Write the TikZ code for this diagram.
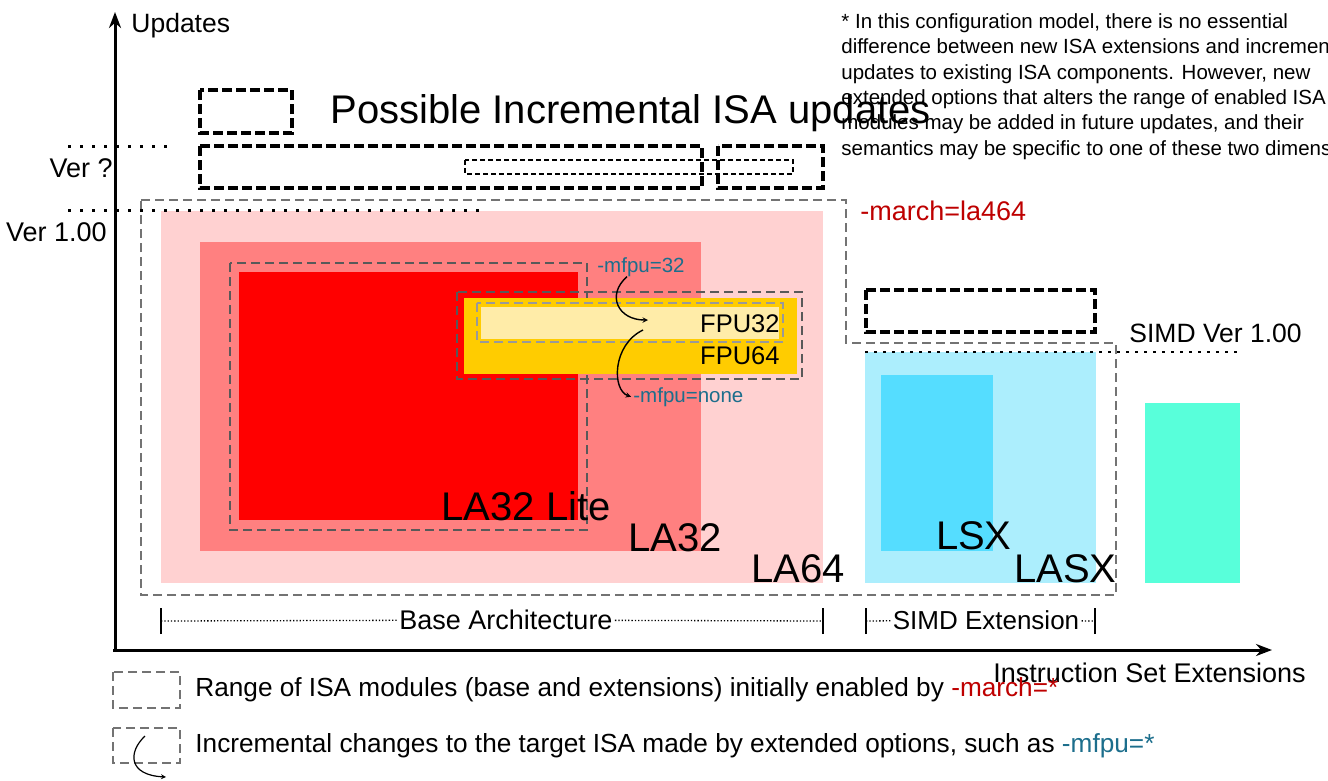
\documentclass[tikz,border=0pt]{standalone}
\usepackage{fontspec}
\setmainfont{Liberation Sans}
\usetikzlibrary{positioning,arrows.meta}
\definecolor{la64c}{RGB}{255,209,209}
\definecolor{la32c}{RGB}{255,128,128}
\definecolor{litec}{RGB}{255,0,0}
\definecolor{fpu64c}{RGB}{255,204,0}
\definecolor{fpu32c}{RGB}{255,236,168}
\definecolor{lasxc}{RGB}{172,238,253}
\definecolor{lsxc}{RGB}{85,221,255}
\definecolor{newc}{RGB}{88,255,218}
\definecolor{marchc}{RGB}{190,0,0}
\definecolor{mfpuc}{RGB}{28,110,140}
\newcommand{\fsz}[1]{\fontsize{#1}{#1}\selectfont}
\tikzset{
  futurebox/.style={line width=3.2pt,dash pattern=on 10pt off 4pt},
  smallbox/.style={line width=1.5pt,dash pattern=on 5pt off 3pt},
  marchbox/.style={draw=black!55,line width=1.2pt,dash pattern=on 9pt off 5pt},
  mfpubox/.style={draw=black!65,line width=1.8pt,dash pattern=on 9pt off 5pt},
  verline/.style={line width=3pt,dash pattern=on 3pt off 9pt},
  bracket/.style={line width=1.3pt,dotted},
  axis/.style={line width=3pt,-{Stealth[length=16pt,width=12pt]}},
  lbl/.style={inner sep=0pt}
}
\begin{document}
\begin{tikzpicture}[thick,>=stealth,x=1pt,y=-1pt]
\useasboundingbox (0,0) rectangle (1328,780);
% regions
\fill[la64c] (161,211) rectangle (823,583);
\fill[la32c] (200,242) rectangle (701,551);
\fill[litec] (239,272) rectangle (578,520);
\draw[mfpubox] (230,263) rectangle (587,530);
\fill[fpu64c] (464,298) rectangle (797,374);
\fill[fpu32c] (481,307) rectangle (779,339);
\draw[mfpubox,draw=black!40] (477,303) rectangle (783,342);
\draw[mfpubox] (457,292) rectangle (802,379);
\fill[lasxc] (865,352) rectangle (1096,583);
\fill[lsxc] (881,375) rectangle (993,551);
\fill[newc] (1145,403) rectangle (1240,583);
\draw[marchbox] (141,200) -- (846,200) -- (846,343) -- (1116,343) -- (1116,595) -- (141,595) -- cycle;
% possible future updates
\draw[futurebox] (200,90) rectangle (292,133);
\draw[futurebox] (200,146) rectangle (702,188);
\draw[futurebox] (718,146) rectangle (823,188);
\draw[smallbox] (465,160) rectangle (793,174);
\draw[futurebox] (866,290) rectangle (1095,332);
\draw[verline] (68,146) -- (175,146);
\draw[verline] (68,210) -- (487,210);
\draw[verline,line width=2.6pt,dash pattern=on 2.6pt off 6.4pt] (865,352) -- (1237,352);
% axes
\draw[axis] (115,651) -- (115,12);
\draw[axis] (113,650) -- (1272,650);
\node[lbl,anchor=base west,font=\fsz{26.5}] (yname) at (131,32) {Updates};
\node[lbl,anchor=base east,font=\fsz{27}] (xname) at (1306,682) {Instruction Set Extensions};
\node[lbl,anchor=base east,font=\fsz{27}] (verq) at (113,177) {Ver ?};
\node[lbl,anchor=base east,font=\fsz{27}] (ver1) at (107,241) {Ver 1.00};
\node[lbl,anchor=base west,font=\fsz{26.5}] (simdver) at (1129,342) {SIMD Ver 1.00};
\node[lbl,anchor=base west,font=\fsz{40}] (future) at (330,123) {Possible Incremental ISA updates};
\begin{scope}
\clip (0,0) rectangle (1328,780);
\node[lbl,anchor=north west,align=left,font={\fontsize{20.5}{25.4}\selectfont}] (note) at (841,13)
  {* In this configuration model, there is no essential\\
   difference between new ISA extensions and incremental\\
   updates to existing ISA components. However, new\\
   extended options that alters the range of enabled ISA\\
   modules may be added in future updates, and their\\
   semantics may be specific to one of these two dimensions.};
\end{scope}
\node[lbl,anchor=base west,font=\fsz{27},text=marchc] (march) at (860,220) {-march=la464};
% module names
\node[lbl,anchor=base east,font=\fsz{40}] (lite) at (611,520) {LA32 Lite};
\node[lbl,anchor=base east,font=\fsz{40}] (la32) at (722,551) {LA32};
\node[lbl,anchor=base east,font=\fsz{40}] (la64) at (845,582) {LA64};
\node[lbl,anchor=base east,font=\fsz{40}] (lsx) at (1012,549) {LSX};
\node[lbl,anchor=base east,font=\fsz{40}] (lasx) at (1117,582) {LASX};
\node[lbl,anchor=base east,font=\fsz{25.5}] (fpu32) at (780,332) {FPU32};
\node[lbl,anchor=base east,font=\fsz{25.5}] (fpu64) at (780,364) {FPU64};
% -mfpu options
\node[lbl,anchor=base west,font=\fsz{20.5},text=mfpuc] (m32) at (597,272) {-mfpu=32};
\node[lbl,anchor=base west,font=\fsz{20.5},text=mfpuc] (mnone) at (633,402) {-mfpu=none};
\coordinate (in32) at (648,320);
\coordinate (out32) at (643,330);
\draw[->,line width=1.4pt] ([xshift=30pt]m32.south west) .. controls (606,295) and (618,320) .. (in32);
\draw[->,line width=1.4pt] (out32) .. controls (612,345) and (612,390) .. ([xshift=-2pt]mnone.west);
% brackets
\node[font=\fsz{27},inner sep=2pt] (base) at (506,620) {Base Architecture};
\node[font=\fsz{26},inner sep=2pt] (simd) at (986,620) {SIMD Extension};
\coordinate (baseL) at (161,621);
\coordinate (baseR) at (823,621);
\coordinate (simdL) at (866,621);
\coordinate (simdR) at (1095,621);
\draw[bracket] (baseL) -- (base) -- (baseR);
\draw[bracket] (simdL) -- (simd) -- (simdR);
\draw[line width=1.8pt] ([yshift=-13pt]baseL) -- ([yshift=13pt]baseL);
\draw[line width=1.8pt] ([yshift=-13pt]baseR) -- ([yshift=13pt]baseR);
\draw[line width=1.8pt] ([yshift=-13pt]simdL) -- ([yshift=13pt]simdL);
\draw[line width=1.8pt] ([yshift=-13pt]simdR) -- ([yshift=13pt]simdR);
% legend
\draw[marchbox,line width=1.2pt] (113,672) rectangle (180,708);
\draw[marchbox,line width=1.2pt] (113,728) rectangle (180,763);
\node[lbl,anchor=base west,font=\fsz{26.2}] (leg1) at (195,696) {Range of ISA modules (base and extensions) initially enabled by \textcolor{marchc}{-march=*}};
\node[lbl,anchor=base west,font=\fsz{26.2}] (leg2) at (195,752) {Incremental changes to the target ISA made by extended options, such as \textcolor{mfpuc}{-mfpu=*}};
\coordinate (legin) at (145,736);
\coordinate (legout) at (166,777);
\draw[->,line width=1.2pt] (legin) .. controls (128,752) and (128,775) .. (legout);
\end{tikzpicture}
\end{document}
